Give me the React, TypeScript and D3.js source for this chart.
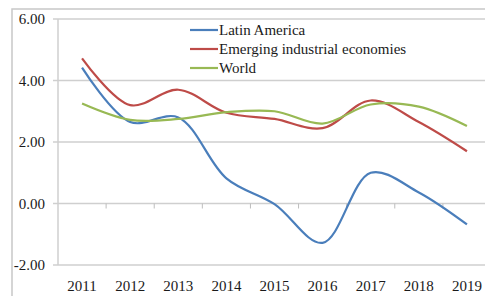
import React from "react";
import * as d3 from "d3";

const years = ["2011", "2012", "2013", "2014", "2015", "2016", "2017", "2018", "2019"];
const latinAmerica = [4.42, 2.65, 2.8, 0.82, -0.02, -1.28, 1.0, 0.36, -0.68];
const emerging = [4.72, 3.2, 3.7, 2.95, 2.75, 2.45, 3.35, 2.65, 1.7];
const world = [3.25, 2.72, 2.75, 2.97, 3.0, 2.6, 3.22, 3.15, 2.52];
const yTicks = [-2, 0, 2, 4, 6];
const seriesNames = ["Latin America", "Emerging industrial economies", "World"];
const seriesColors = ["#4a7ebb", "#be4b48", "#98b954"];

export default function App() {
  const W = 485, H = 296;
  const left = 58, right = 491, top = 19, bottom = 265;
  const x = d3.scaleBand<string>().domain(years).range([left, right]);
  const y = d3.scaleLinear().domain([-2, 6]).range([bottom, top]);
  const cx = (d: string) => (x(d) as number) + x.bandwidth() / 2;
  const line = d3
    .line<number>()
    .x((_, i) => cx(years[i]))
    .y((v) => y(v))
    .curve(d3.curveCatmullRom.alpha(0.5));
  const data = [latinAmerica, emerging, world];
  const font = "Liberation Serif, serif";
  return (
    <svg width={W} height={H} style={{ position: "absolute", left: 0, top: 0 }}>
      <rect x={0} y={0} width={W} height={H} fill="#fff" />
      <rect x={12} y={9} width={520} height={320} fill="none" stroke="#c8c8c8" strokeWidth={1.5} />
      {yTicks.map((t) => (
        <g key={t}>
          <line x1={left - 5} x2={right} y1={y(t)} y2={y(t)} stroke="#cfcfcf" strokeWidth={1.5} />
          <text x={45} y={y(t) + 5} textAnchor="end" fontFamily={font} fontSize={15} fill="#1a1a1a">
            {t.toFixed(2)}
          </text>
        </g>
      ))}
      <line x1={left} x2={left} y1={top} y2={bottom} stroke="#cfcfcf" strokeWidth={1.5} />
      {years.slice(1).map((yr) => (
        <line key={yr} x1={x(yr)} x2={x(yr)} y1={y(0)} y2={y(0) + 5} stroke="#bdbdbd" strokeWidth={1} />
      ))}
      {years.map((yr) => (
        <text key={yr} x={cx(yr)} y={291} textAnchor="middle" fontFamily={font} fontSize={15} fill="#1a1a1a">
          {yr}
        </text>
      ))}
      {data.map((s, i) => (
        <path key={i} d={line(s) || ""} fill="none" stroke={seriesColors[i]} strokeWidth={2.2} />
      ))}
      {seriesNames.map((n, i) => (
        <g key={n}>
          <line x1={190} x2={218} y1={30 + i * 19} y2={30 + i * 19} stroke={seriesColors[i]} strokeWidth={2.2} />
          <text x={219} y={35 + i * 19} fontFamily={font} fontSize={15} fill="#1a1a1a">
            {n}
          </text>
        </g>
      ))}
    </svg>
  );
}
